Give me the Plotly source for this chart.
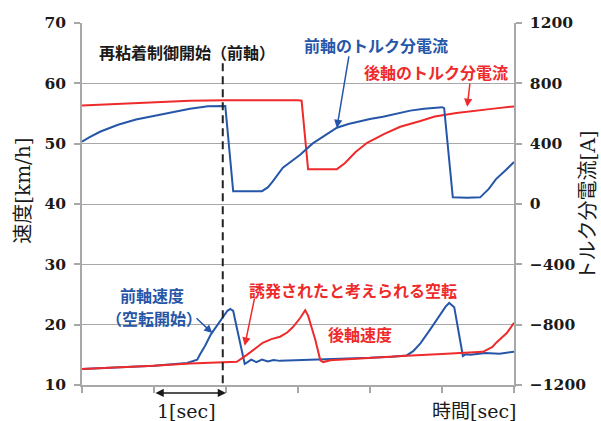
import plotly.graph_objects as go

# ---- data -------------------------------------------------------------
# torque-producing current [A], front axle
front_torque_t = [0.0, 0.1, 0.25, 0.5, 0.75, 1.0, 1.25, 1.5, 1.75, 1.97, 1.99, 2.10, 2.30, 2.50,
                  2.58, 2.65, 2.79, 2.91, 3.03, 3.20, 3.37, 3.54, 3.70, 3.85, 4.0, 4.18, 4.37,
                  4.56, 4.75, 4.93, 5.00, 5.03, 5.15, 5.35, 5.53, 5.65, 5.75, 5.88, 6.0]
front_torque_a = [413, 442, 479, 525, 560, 585, 611, 632, 648, 654, 650, 84, 82, 85,
                  110, 150, 241, 287, 327, 400, 455, 506, 530, 548, 563, 579, 600,
                  619, 631, 640, 642, 635, 44, 42, 44, 100, 165, 222, 278]

# torque-producing current [A], rear axle
rear_torque_t = [0.0, 0.5, 1.0, 1.5, 2.0, 2.5, 3.0, 3.05, 3.14, 3.54, 3.65, 3.80, 3.96, 4.2,
                 4.42, 4.7, 4.9, 5.2, 5.46, 5.75, 6.0]
rear_torque_a = [653, 662, 675, 684, 688, 690, 688, 685, 231, 231, 270, 345, 406, 465,
                 512, 550, 580, 603, 619, 634, 647]

# axle speed [km/h], front axle
front_speed_t = [0.0, 0.5, 1.0, 1.46, 1.60, 1.64, 1.71, 1.79, 1.88, 1.96, 2.02, 2.06, 2.10,
                 2.15, 2.26, 2.30, 2.35, 2.42, 2.50, 2.58, 2.66, 2.75, 3.0, 3.3, 3.6,
                 4.0, 4.3, 4.51, 4.60, 4.70, 4.83, 4.97, 5.05, 5.10, 5.17, 5.29, 5.33,
                 5.40, 5.60, 5.80, 6.0]
front_speed_v = [12.65, 12.9, 13.2, 13.65, 14.2, 15.1, 16.5, 18.4, 20.0, 21.3, 22.3, 22.6, 22.3,
                 19.5, 13.5, 13.8, 14.2, 13.8, 14.2, 13.9, 14.15, 14.0, 14.1, 14.1, 14.3,
                 14.5, 14.7, 14.9, 15.6, 16.9, 19.1, 21.6, 23.0, 23.6, 22.9, 14.8, 15.1,
                 15.0, 15.3, 15.2, 15.5]

# axle speed [km/h], rear axle
rear_speed_t = [0.0, 0.5, 1.0, 1.5, 2.0, 2.15, 2.29, 2.40, 2.51, 2.63, 2.75, 2.85, 2.93,
                3.03, 3.10, 3.14, 3.24, 3.31, 3.35, 3.45, 3.7, 4.0, 4.51, 5.0, 5.29,
                5.57, 5.70, 5.76, 5.90, 6.0]
rear_speed_v = [12.65, 12.9, 13.2, 13.55, 13.75, 13.86, 15.0, 16.0, 17.0, 17.6, 18.0, 18.7, 19.6,
                21.1, 22.4, 21.5, 17.5, 14.1, 13.8, 14.1, 14.3, 14.5, 14.85, 15.15, 15.3,
                15.5, 16.3, 17.1, 18.6, 20.3]

readhesion_start = 1.955          # start of re-adhesion control [s]
speed_ticks = [10, 20, 30, 40, 50, 60, 70]
torque_ticks = [-1200, -800, -400, 0, 400, 800, 1200]

# ---- style ------------------------------------------------------------
BLUE = "#2656a8"
RED = "#ee2a2a"
GRID = "#a8a8a8"
NUM_FONT = dict(family="DejaVu Serif", size=15.5, color="#1a1a1a", weight="bold")
JP_FAMILY = "Noto Sans CJK JP"
MIX_FAMILY = "DejaVu Serif, Noto Sans CJK JP"

fig = go.Figure()
fig.add_trace(go.Scatter(x=rear_torque_t, y=rear_torque_a, yaxis="y2", mode="lines",
                         line=dict(color=RED, width=2)))
fig.add_trace(go.Scatter(x=front_torque_t, y=front_torque_a, yaxis="y2", mode="lines",
                         line=dict(color=BLUE, width=2)))
fig.add_trace(go.Scatter(x=front_speed_t, y=front_speed_v, mode="lines",
                         line=dict(color=BLUE, width=2)))
fig.add_trace(go.Scatter(x=rear_speed_t, y=rear_speed_v, mode="lines",
                         line=dict(color=RED, width=2)))

# dashed marker where re-adhesion control begins
fig.add_shape(type="line", xref="x", yref="paper", x0=readhesion_start, x1=readhesion_start,
              y0=0.889, y1=-0.008, line=dict(color="#222222", width=2, dash="8px,5px"))

ann = []


def label(text, x, y, color, size=16):
    ann.append(dict(text=text, x=x, y=y, xref="x", yref="y", showarrow=False,
                    font=dict(family=JP_FAMILY, size=size, color=color, weight="bold"),
                    xanchor="center", yanchor="middle"))


def pointer(x_head, y_head, x_tail, y_tail, color):
    ann.append(dict(text="", x=x_head, y=y_head, ax=x_tail, ay=y_tail, xref="x", yref="y",
                    axref="x", ayref="y", showarrow=True, arrowhead=2, arrowsize=1.1,
                    arrowwidth=1.5, arrowcolor=color))


label("再粘着制御開始（前軸）", 1.465, 65.2, "#1a1a1a")
label("前軸のトルク分電流", 4.08, 66.4, BLUE)
label("後軸のトルク分電流", 4.92, 61.9, RED)
label("前軸速度", 0.975, 24.95, BLUE)
label("（空転開始）", 0.995, 21.05, BLUE)
label("誘発されたと考えられる空転", 3.76, 25.7, RED)
label("後軸速度", 3.86, 18.45, RED)

pointer(3.54, 52.6, 3.71, 64.7, BLUE)
pointer(5.35, 56.1, 5.39, 60.2, RED)
pointer(1.81, 18.6, 1.57, 21.3, BLUE)
pointer(2.26, 16.5, 2.40, 24.6, RED)

# one-second span arrow
ann.append(dict(text="", x=2, y=-0.022, xref="x", yref="paper", ax=1, ay=0,
                axref="x", ayref="pixel", showarrow=True, arrowhead=2, arrowside="end+start",
                arrowsize=1.1, arrowwidth=1.5, arrowcolor="#1a1a1a"))
ann.append(dict(text="1[sec]", x=0.243, y=-0.072, xref="paper", yref="paper", showarrow=False,
                font=dict(family=MIX_FAMILY, size=19, color="#1a1a1a"),
                xanchor="center", yanchor="middle"))
ann.append(dict(text="時間[sec]", x=0.907, y=-0.072, xref="paper", yref="paper", showarrow=False,
                font=dict(family=MIX_FAMILY, size=19, color="#1a1a1a"),
                xanchor="center", yanchor="middle"))

# axis titles
ann.append(dict(text="速度[km/h]", x=-0.137, y=0.536, xref="paper", yref="paper",
                showarrow=False, textangle=-90,
                font=dict(family=MIX_FAMILY, size=20, color="#1a1a1a"),
                xanchor="center", yanchor="middle"))
ann.append(dict(text="トルク分電流[A]", x=1.172, y=0.497, xref="paper", yref="paper",
                showarrow=False, textangle=-90,
                font=dict(family=MIX_FAMILY, size=20, color="#1a1a1a"),
                xanchor="center", yanchor="middle"))

fig.update_layout(
    width=601, height=421,
    margin=dict(l=82, r=87, t=23, b=36),
    paper_bgcolor="white", plot_bgcolor="white",
    showlegend=False,
    annotations=ann,
    xaxis=dict(range=[0, 6], dtick=1, tick0=0, showgrid=False, zeroline=False,
               showline=True, linecolor=GRID, linewidth=1.5, ticks="outside",
               ticklen=6, tickcolor=GRID, tickwidth=1.5, showticklabels=False),
    yaxis=dict(range=[10, 70], tickvals=speed_ticks, showgrid=True, gridcolor=GRID,
               gridwidth=1, zeroline=False, showline=True, linecolor=GRID, linewidth=1.5,
               ticks="outside", ticklen=6, tickcolor=GRID, tickwidth=1.5,
               tickfont=NUM_FONT, ticklabelstandoff=5),
    yaxis2=dict(range=[-1200, 1200], tickvals=torque_ticks, overlaying="y", side="right",
                showgrid=False, zeroline=False, showline=True, linecolor=GRID, linewidth=1.5,
                ticks="outside", ticklen=6, tickcolor=GRID, tickwidth=1.5,
                tickfont=NUM_FONT, ticklabelstandoff=5),
)

fig.write_html("out.html")
